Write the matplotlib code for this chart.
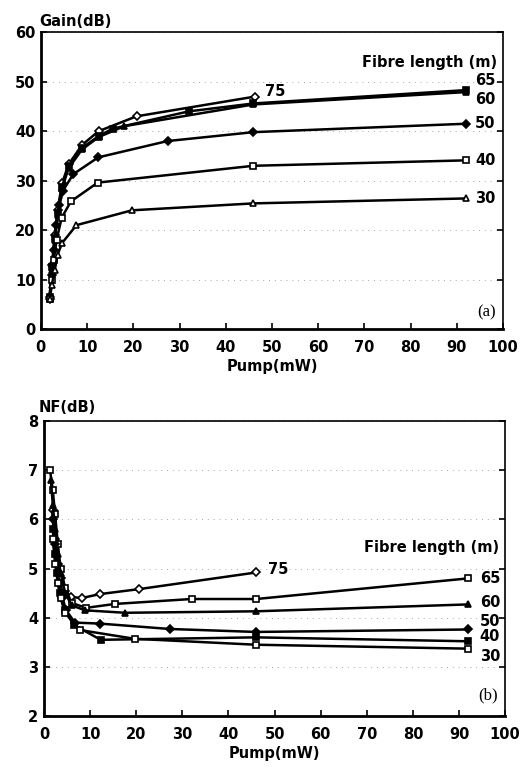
import matplotlib.pyplot as plt

plt.rcParams['font.family'] = ['DejaVu Sans']
plt.rcParams['font.weight'] = 'bold'

lengths = ['75', '65', '60', '50', '40', '30']

# --- (a) gain vs pump ---
gain_x = {
    '75': [1.9, 2.4, 3.0, 3.6, 4.6, 6.0, 8.9, 12.5, 20.7, 46.4],
    '65': [1.9, 2.4, 3.0, 3.6, 4.6, 6.0, 8.9, 12.5, 15.5, 32, 46, 92],
    '60': [1.9, 2.4, 3.0, 3.6, 4.6, 6.0, 8.9, 12.5, 18, 46, 92],
    '50': [1.9, 2.3, 2.8, 3.3, 4.0, 4.8, 7.0, 12.4, 27.4, 46, 92],
    '40': [1.9, 2.3, 2.8, 3.4, 4.5, 6.5, 12.3, 46, 92],
    '30': [1.9, 2.4, 3.0, 3.6, 4.6, 7.7, 19.7, 46, 92],
}
gain_y = {
    '75': [6.5, 13, 19, 24, 29.5, 33.3, 37.2, 40, 43, 47],
    '65': [6.5, 12.5, 18.5, 23.5, 28.8, 33, 36.6, 39, 40.5, 44, 45.6, 48.3],
    '60': [6.2, 12, 18, 23, 28.5, 32.5, 36.3, 38.8, 41, 45.4, 47.9],
    '50': [6, 11, 16, 21, 25, 28, 31.3, 34.7, 38, 39.8, 41.5],
    '40': [6, 10, 14, 18, 22.5, 25.8, 29.6, 33, 34.1],
    '30': [6, 9, 12, 15, 17.4, 21, 24, 25.4, 26.4],
}
gain_label_y = {'65': 50.3, '60': 46.4, '50': 41.6, '40': 34.1, '30': 26.4}

# --- (b) noise figure vs pump ---
nf_x = {
    '75': [1.9, 2.4, 3.0, 3.6, 4.6, 5.9, 8.2, 12.1, 20.5, 46],
    '65': [1.3, 1.9, 2.4, 3.0, 3.6, 4.6, 6.0, 9.1, 15.4, 32, 46, 92],
    '60': [1.5, 1.9, 2.4, 3.0, 3.6, 4.6, 6.0, 8.9, 17.6, 46, 92],
    '50': [1.9, 2.3, 2.8, 3.3, 4.0, 4.8, 6.7, 12.1, 27.3, 46, 92],
    '40': [1.9, 2.3, 2.8, 3.4, 4.5, 6.5, 12.3, 46, 92],
    '30': [1.9, 2.4, 3.0, 3.6, 4.6, 7.7, 19.7, 46, 92],
}
nf_y = {
    '75': [6.2, 5.6, 5.1, 4.8, 4.55, 4.42, 4.4, 4.48, 4.58, 4.92],
    '65': [7.0, 6.6, 6.1, 5.5, 5.0, 4.6, 4.3, 4.2, 4.28, 4.38, 4.38, 4.8],
    '60': [6.8, 6.3, 5.8, 5.3, 4.9, 4.5, 4.25, 4.15, 4.1, 4.13, 4.27],
    '50': [6.0, 5.5, 5.1, 4.7, 4.4, 4.15, 3.9, 3.88, 3.77, 3.71, 3.76],
    '40': [5.8, 5.3, 4.9, 4.5, 4.15, 3.85, 3.55, 3.6, 3.52],
    '30': [5.6, 5.1, 4.7, 4.4, 4.1, 3.75, 3.57, 3.45, 3.37],
}
nf_label_y = {'65': 4.80, '60': 4.30, '50': 3.93, '40': 3.61, '30': 3.22}

# marker, filled?
gain_style = {'75': ('D', False), '65': ('s', True), '60': ('^', True),
              '50': ('D', True), '40': ('s', False), '30': ('^', False)}
nf_style = {'75': ('D', False), '65': ('s', False), '60': ('^', True),
            '50': ('D', True), '40': ('s', True), '30': ('s', False)}

FS = 10.5

fig = plt.figure(figsize=(5.24, 7.67), dpi=100)
ax1 = fig.add_axes([0.078, 0.571, 0.882, 0.387])
ax2 = fig.add_axes([0.084, 0.0665, 0.880, 0.3845])


def style_axes(ax):
    for side in ['left', 'bottom']:
        ax.spines[side].set_linewidth(2.0)
    for side in ['top', 'right']:
        ax.spines[side].set_linewidth(1.2)
    ax.tick_params(direction='in', length=4, width=1.2, labelsize=FS,
                   right=True, top=False)
    ax.tick_params(axis='x', pad=8)
    ax.tick_params(axis='y', pad=4)
    for t in ax.get_xticklabels() + ax.get_yticklabels():
        t.set_fontweight('bold')
    ax.grid(axis='y', linestyle=(0, (1, 5)), color='0.65', linewidth=0.7)
    ax.set_axisbelow(True)


def draw(ax, xs, ys, styles):
    for key in lengths:
        m, filled = styles[key]
        ms = 4.2 if m == 'D' else 4.6
        ax.plot(xs[key], ys[key], color='black', linewidth=1.8,
                marker=m, markersize=ms, markeredgewidth=1.2,
                markerfacecolor='black' if filled else 'white',
                markeredgecolor='black')


# panel (a)
draw(ax1, gain_x, gain_y, gain_style)
ax1.set_xlim(0, 100)
ax1.set_ylim(0, 60)
ax1.set_xticks(range(0, 101, 10))
ax1.set_yticks(range(0, 61, 10))
style_axes(ax1)
ax1.set_xlabel('Pump(mW)', fontsize=FS, fontweight='bold', labelpad=3)
fig.text(0.074, 0.972, 'Gain(dB)', fontsize=FS, fontweight='bold', va='center')
ax1.text(98.8, 53.9, 'Fibre length (m)', fontsize=FS, fontweight='bold',
         ha='right', va='center')
ax1.text(48.5, 48.0, '75', fontsize=FS, fontweight='bold', va='center')
for key, yv in gain_label_y.items():
    ax1.text(94.0, yv, key, fontsize=FS, fontweight='bold', va='center')
ax1.text(98.5, 3.3, '(a)', fontsize=12, fontweight='normal',
         family='Liberation Serif', ha='right', va='center')

# panel (b)
draw(ax2, nf_x, nf_y, nf_style)
ax2.set_xlim(0, 100)
ax2.set_ylim(2, 8)
ax2.set_xticks(range(0, 101, 10))
ax2.set_yticks(range(2, 9))
style_axes(ax2)
ax2.set_xlabel('Pump(mW)', fontsize=FS, fontweight='bold', labelpad=3)
fig.text(0.074, 0.469, 'NF(dB)', fontsize=FS, fontweight='bold', va='center')
ax2.text(98.8, 5.43, 'Fibre length (m)', fontsize=FS, fontweight='bold',
         ha='right', va='center')
ax2.text(48.5, 4.99, '75', fontsize=FS, fontweight='bold', va='center')
for key, yv in nf_label_y.items():
    ax2.text(94.5, yv, key, fontsize=FS, fontweight='bold', va='center')
ax2.text(98.5, 2.42, '(b)', fontsize=12, fontweight='normal',
         family='Liberation Serif', ha='right', va='center')

fig.savefig('out.png', dpi=100)
